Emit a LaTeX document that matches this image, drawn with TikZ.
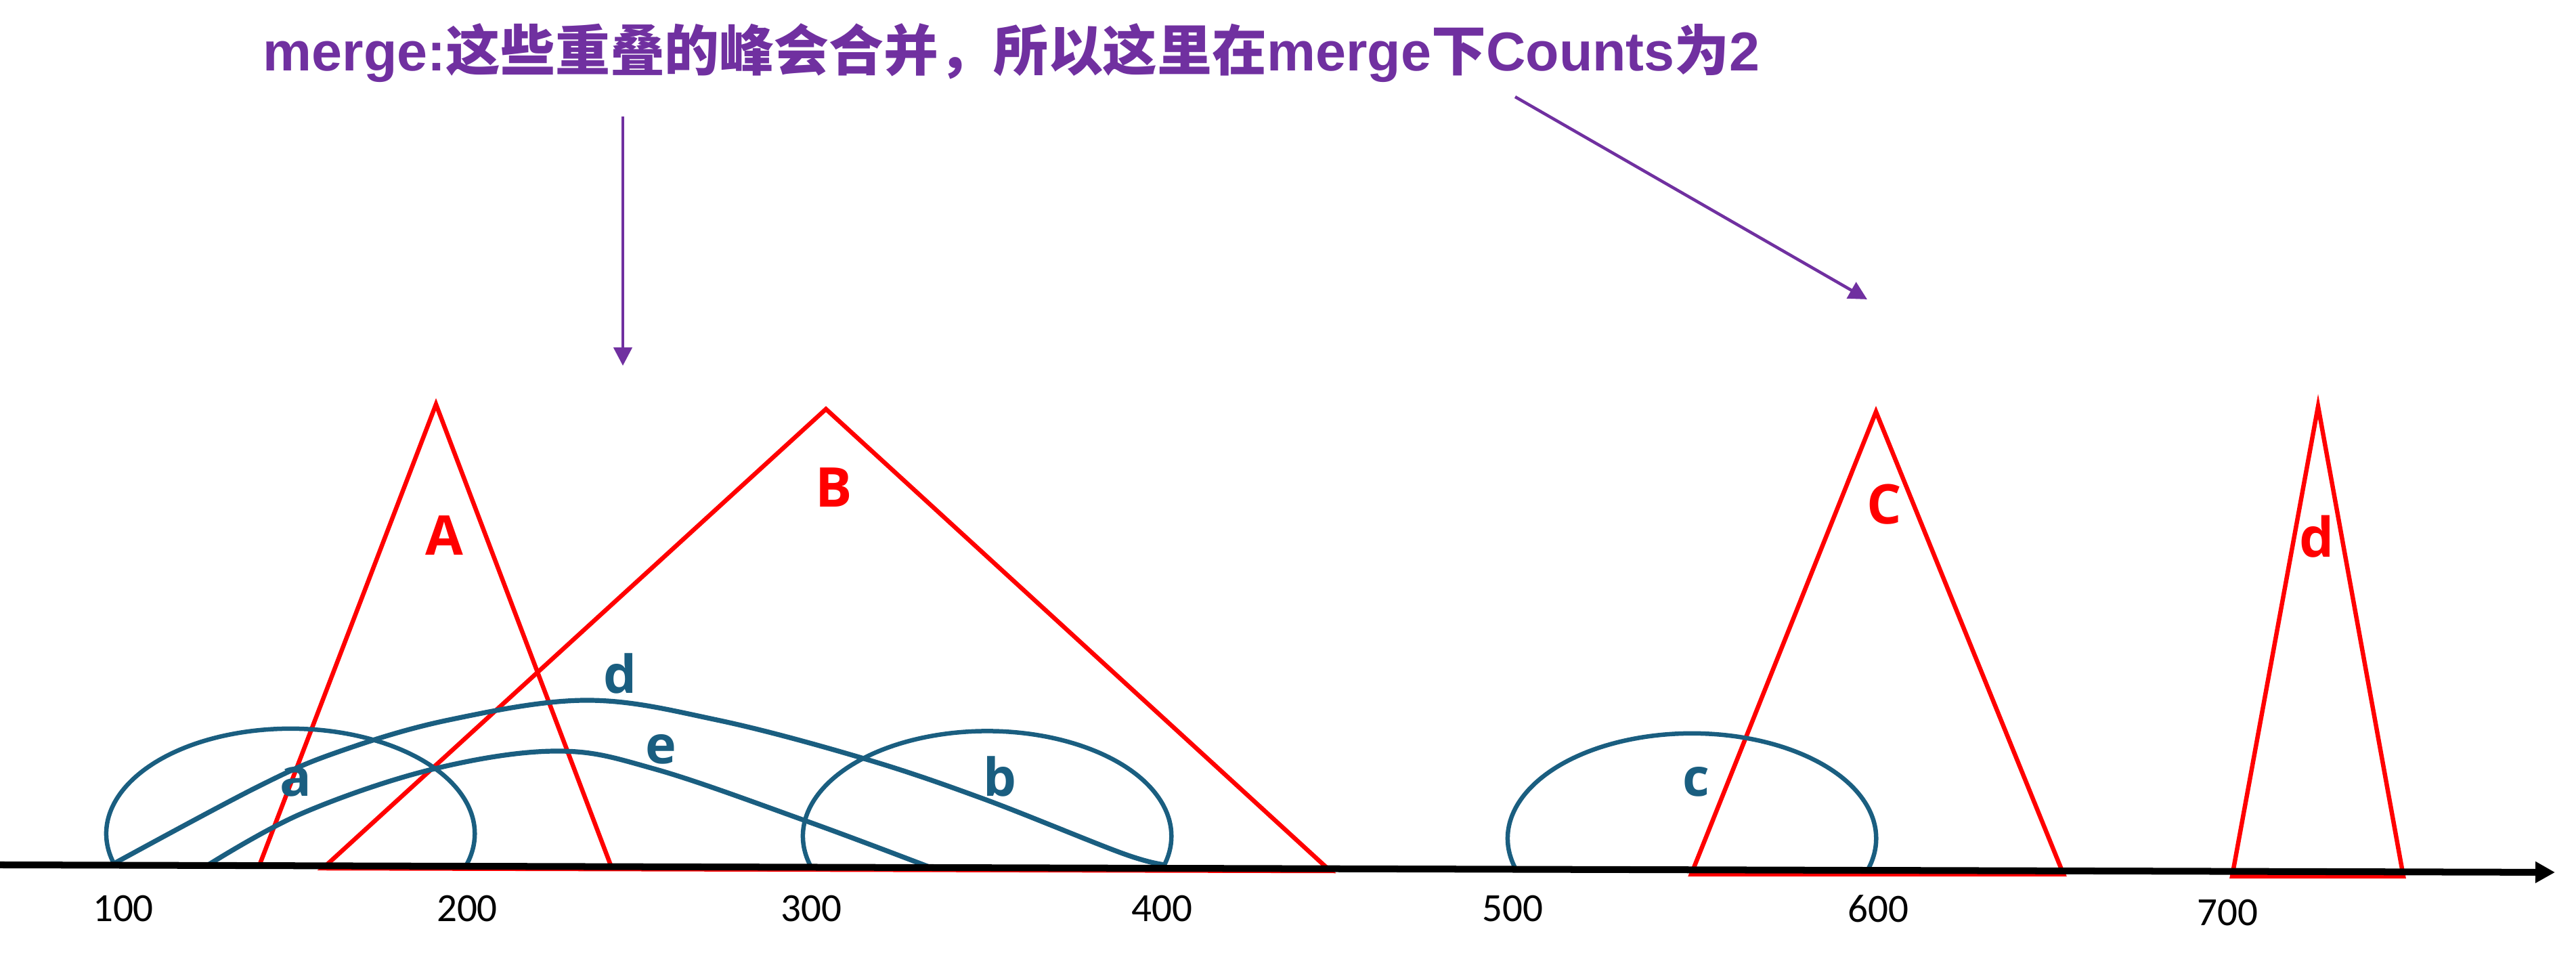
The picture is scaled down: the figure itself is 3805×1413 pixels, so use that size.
\documentclass[tikz,border=0pt]{standalone}
\usepackage{fontspec}
\usetikzlibrary{arrows.meta}
\newfontfamily\cjkfont{Noto Sans CJK SC}
\newfontfamily\latinfont{Liberation Sans}
\newfontfamily\tickfont{Carlito}
\newfontfamily\labelfont{Open Sans}
\newcommand{\cjtxt}[1]{{\cjkfont\bfseries #1}}
\definecolor{peakc}{RGB}{255,0,0}
\definecolor{readc}{RGB}{26,94,128}
\definecolor{notec}{RGB}{112,48,160}
\tikzset{
  peakline/.style={draw=peakc, line width=0.065cm, line join=miter},
  readline/.style={draw=readc, line width=0.065cm},
  readcurve/.style={draw=readc, line width=0.072cm},
  axisline/.style={draw=black, line width=0.1cm, -{Triangle[length=0.29cm,width=0.30cm]}},
  notearrow/.style={draw=notec, line width=0.045cm, -{Triangle[length=0.27cm,width=0.27cm]}},
  peaklabel/.style={text=peakc, font=\labelfont\bfseries\fontsize{23pt}{27pt}\selectfont, inner sep=0pt},
  readlabel/.style={text=readc, font=\labelfont\bfseries\fontsize{22pt}{26pt}\selectfont, inner sep=0pt},
  ticklabel/.style={text=black, font=\tickfont\fontsize{16.8pt}{20pt}\selectfont, inner sep=0pt},
  titlelabel/.style={text=notec, font=\latinfont\bfseries\fontsize{23pt}{28pt}\selectfont, inner sep=0pt, anchor=base west}
}
\begin{document}
\begin{tikzpicture}[x=0.01cm,y=0.01cm]
\useasboundingbox (0,0) rectangle (3805,1413);

% title and arrows
\node[titlelabel] (title) at (388,1308) {merge:\cjtxt{这些重叠的峰会合并，所以这里在}merge\cjtxt{下}Counts\cjtxt{为}2};
\coordinate (n1s) at (920,1241);
\coordinate (n1e) at (920,873);
\coordinate (n2s) at (2238,1270);
\coordinate (n2e) at (2758,971);
\draw[notearrow] (n1s) -- (n1e);
\draw[notearrow] (n2s) -- (n2e);

% peaks (red triangles)
\draw[peakline] (383,135) -- (644,816) -- (903,133) -- cycle;
\draw[peakline] (477,131) -- (1220,809) -- (1965,127) -- cycle;
\draw[peakline] (2498,122) -- (2771,805) -- (3048,122) -- cycle;
\draw[peakline] (3297,119) -- (3424,813) -- (3550,119) -- cycle;

% reads (blue)
\draw[readline] (169.6,135.4) arc[start angle=197.5, end angle=-17.5, x radius=2.72cm, y radius=1.55cm];
\draw[readline] (1198.6,131.8) arc[start angle=197.5, end angle=-17.5, x radius=2.72cm, y radius=1.55cm];
\draw[readline] (2239.6,128.4) arc[start angle=197.5, end angle=-17.5, x radius=2.72cm, y radius=1.55cm];
\draw[readcurve] plot[smooth, tension=0.6] coordinates {(163,135) (380,251) (500,303) (663,350) (867,379) (1059,350) (1276,293) (1454,233) (1658,153) (1722,136)};
\draw[readcurve] plot[smooth, tension=0.6] coordinates {(306,135) (446,212) (638,277) (823,304) (969,277) (1193,200) (1375,132)};

% axis
\draw[axisline] (0,136) -- (3774,125);

% labels
\node[peaklabel] (lA) at (656,622) {A};
\node[peaklabel] (lB) at (1232,693) {B};
\node[peaklabel] (lC) at (2783,668) {C};
\node[peaklabel] (ld) at (3422,621) {d};
\node[readlabel] (ra) at (437,259) {a};
\node[readlabel] (rb) at (1477,266) {b};
\node[readlabel] (rc) at (2505,259) {c};
\node[readlabel] (rd) at (916,418) {d};
\node[readlabel] (re) at (976,307) {e};

\node[ticklabel] (t1) at (182,71) {100};
\node[ticklabel] (t2) at (690,71) {200};
\node[ticklabel] (t3) at (1198,71) {300};
\node[ticklabel] (t4) at (1716,71) {400};
\node[ticklabel] (t5) at (2234,71) {500};
\node[ticklabel] (t6) at (2774,71) {600};
\node[ticklabel] (t7) at (3290,65) {700};
\end{tikzpicture}
\end{document}
